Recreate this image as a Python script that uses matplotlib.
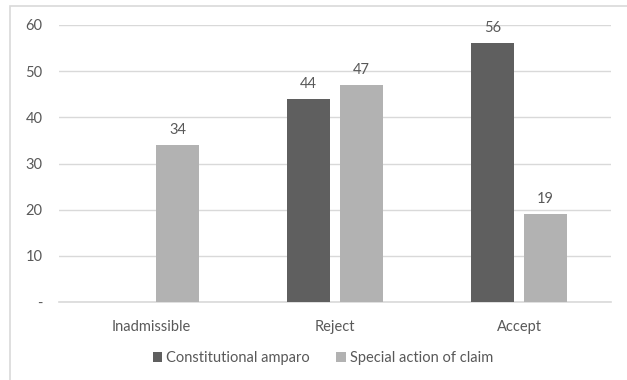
import numpy as np
import matplotlib
matplotlib.use("Agg")
import matplotlib.pyplot as plt
from matplotlib.patches import Rectangle

categories = ["Inadmissible", "Reject", "Accept"]
amparo = [0, 44, 56]
special = [34, 47, 19]
series_names = ["Constitutional amparo", "Special action of claim"]
yticks = [0, 10, 20, 30, 40, 50, 60]
ytick_labels = ["-", "10", "20", "30", "40", "50", "60"]

plt.rcParams["font.family"] = ["Lato", "DejaVu Sans"]
text_color = "#595959"
dark = "#5f5f5f"
light = "#b2b2b2"
grid_color = "#d9d9d9"
fs = 10.5

fig = plt.figure(figsize=(6.27, 3.80), dpi=100)
ax = fig.add_axes([59 / 627, 78 / 380, 552 / 627, 277 / 380])

x = np.arange(len(categories))
width = 0.229
offset = 0.144

bars1 = ax.bar(x - offset, amparo, width, color=dark, label=series_names[0], zorder=3)
bars2 = ax.bar(x + offset, special, width, color=light, label=series_names[1], zorder=3)

for bars, vals in [(bars1, amparo), (bars2, special)]:
    for b, v in zip(bars, vals):
        if v == 0:
            continue
        ax.annotate(str(v), (b.get_x() + b.get_width() / 2, v),
                    xytext=(0, 6), textcoords="offset points",
                    ha="center", va="bottom", fontsize=fs, color=text_color)

ax.set_xlim(-0.5, 2.5)
ax.set_ylim(0, 60)
ax.set_yticks(yticks)
ax.set_yticklabels(ytick_labels)
ax.set_xticks(x)
ax.set_xticklabels(categories)
ax.tick_params(axis="both", length=0, colors=text_color, labelsize=fs)
ax.tick_params(axis="y", pad=12)
ax.tick_params(axis="x", pad=13)
ax.yaxis.grid(True, color=grid_color, linewidth=1, zorder=0)
for s in ["top", "right", "left"]:
    ax.spines[s].set_visible(False)
ax.spines["bottom"].set_color(grid_color)
ax.spines["bottom"].set_linewidth(1.2)

leg = fig.legend(handles=[bars1, bars2], loc="center", ncol=2,
                 bbox_to_anchor=(323 / 627, 22 / 380), frameon=False,
                 fontsize=fs, handlelength=0.65, handleheight=0.65,
                 handletextpad=0.3, columnspacing=1.8)
for t in leg.get_texts():
    t.set_color(text_color)

# chart area border (cut off at right and bottom)
fig.patches.append(Rectangle((10 / 627, -0.2), 1.2, 0.2 + 374 / 380,
                             transform=fig.transFigure, fill=False,
                             edgecolor=grid_color, linewidth=1.2))

fig.savefig("out.png", dpi=100)
